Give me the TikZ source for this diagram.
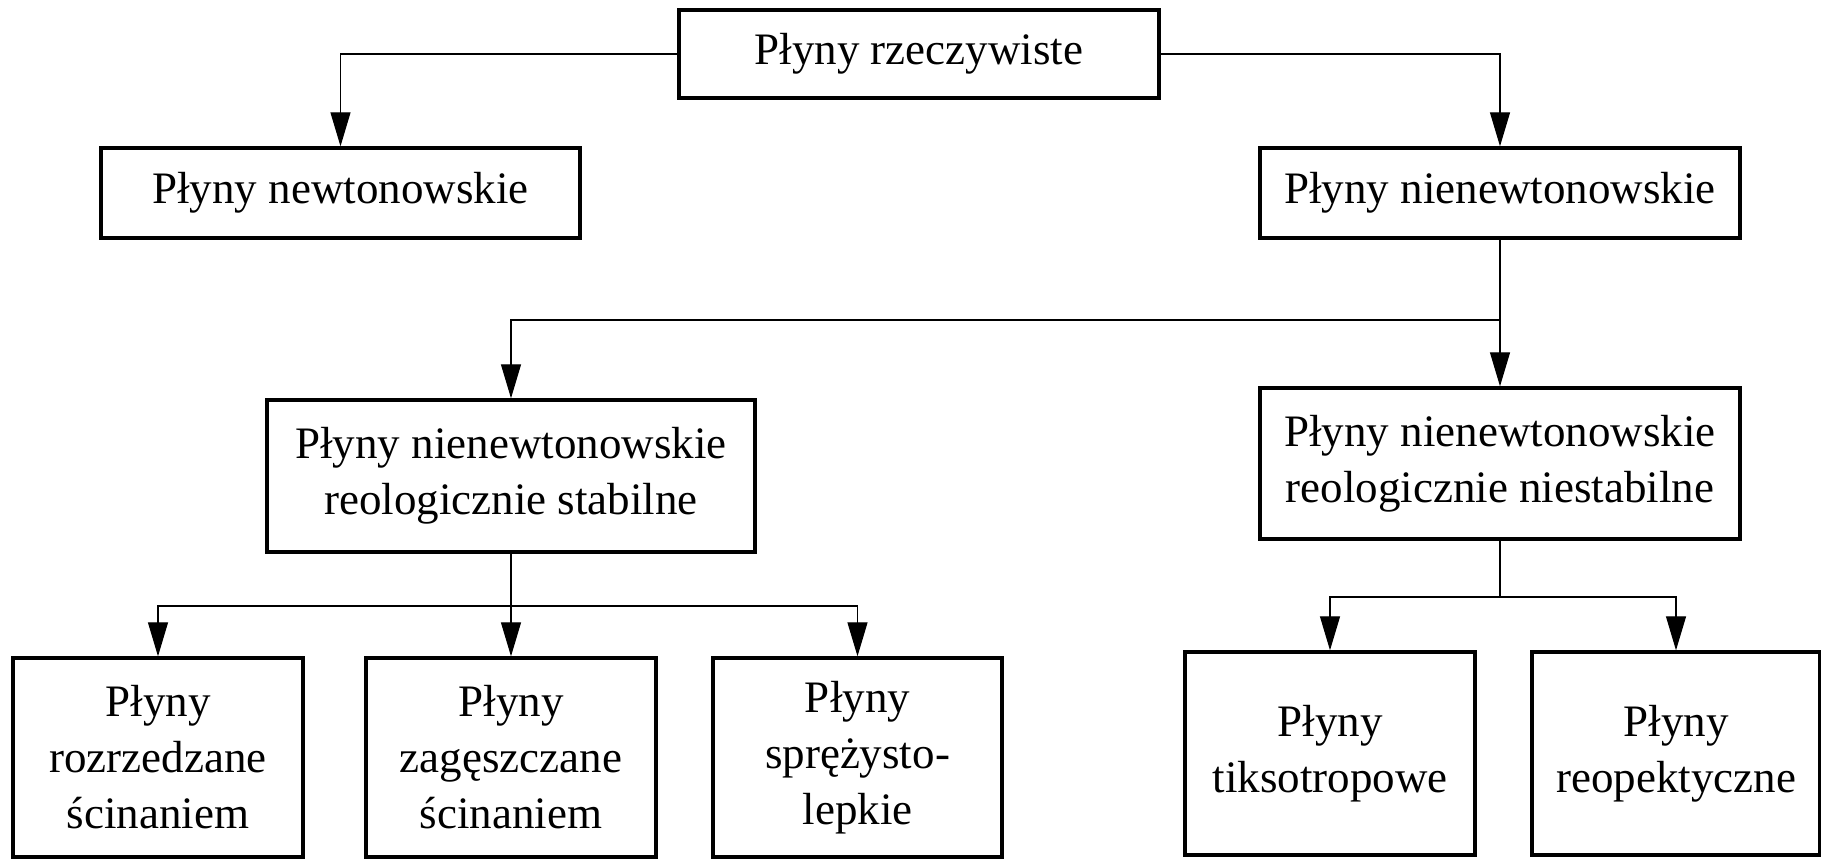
\documentclass[tikz,border=0pt]{standalone}
\usepackage{fontspec}
\setmainfont{Liberation Serif}
\usetikzlibrary{arrows.meta}
\begin{document}
\begin{tikzpicture}[x=0.5pt,y=-0.5pt,
  box/.style={draw=black, line width=1.7pt, align=center, inner sep=0pt,
    font=\fontsize{22.5}{28}\selectfont},
  link/.style={draw=black, line width=0.6pt},
  arr/.style={link, -{Triangle[length=17pt,width=10pt]}}]
\useasboundingbox (0,0) rectangle (1821,859);

% level 0
\node[box, minimum width=240pt, minimum height=44pt] (real) at (919,54) {Płyny rzeczywiste};
% level 1
\node[box, minimum width=239.5pt, minimum height=45pt] (newt) at (340.5,193) {Płyny newtonowskie};
\node[box, minimum width=240pt, minimum height=45pt] (nonnewt) at (1500,193) {Płyny nienewtonowskie};
% level 2
\node[box, minimum width=244pt, minimum height=76pt] (stab) at (511,476) {Płyny nienewtonowskie\\reologicznie stabilne};
\node[box, minimum width=240pt, minimum height=75.5pt] (unstab) at (1500,463.5) {Płyny nienewtonowskie\\reologicznie niestabilne};
% level 3
\node[box, minimum width=145pt, minimum height=99.5pt] (thin) at (158,757.5) {Płyny\\rozrzedzane\\ścinaniem};
\node[box, minimum width=145pt, minimum height=99.5pt] (thick) at (511,757.5) {Płyny\\zagęszczane\\ścinaniem};
\node[box, minimum width=144.5pt, minimum height=99.5pt] (visco) at (857.5,757.5) {Płyny\\sprężysto-\\lepkie};
\node[box, minimum width=145pt, minimum height=101.5pt] (thixo) at (1330,753.5) {Płyny\\tiksotropowe};
\node[box, minimum width=144pt, minimum height=101.5pt] (rheo) at (1676,753.5) {Płyny\\reopektyczne};

% junctions
\coordinate (j1) at (1500,320);
\coordinate (j2) at (511,606);
\coordinate (j3) at (1500,597);

% connectors
\draw[arr] (real.west) -| (newt.north);
\draw[arr] (real.east) -| (nonnewt.north);
\draw[link] (nonnewt.south) -- (j1);
\draw[arr] (j1) -| (stab.north);
\draw[arr] (j1) -- (unstab.north);
\draw[link] (stab.south) -- (j2);
\draw[arr] (j2) -| (thin.north);
\draw[arr] (j2) -- (thick.north);
\draw[arr] (j2) -| (visco.north);
\draw[link] (unstab.south) -- (j3);
\draw[arr] (j3) -| (thixo.north);
\draw[arr] (j3) -| (rheo.north);
\end{tikzpicture}
\end{document}
